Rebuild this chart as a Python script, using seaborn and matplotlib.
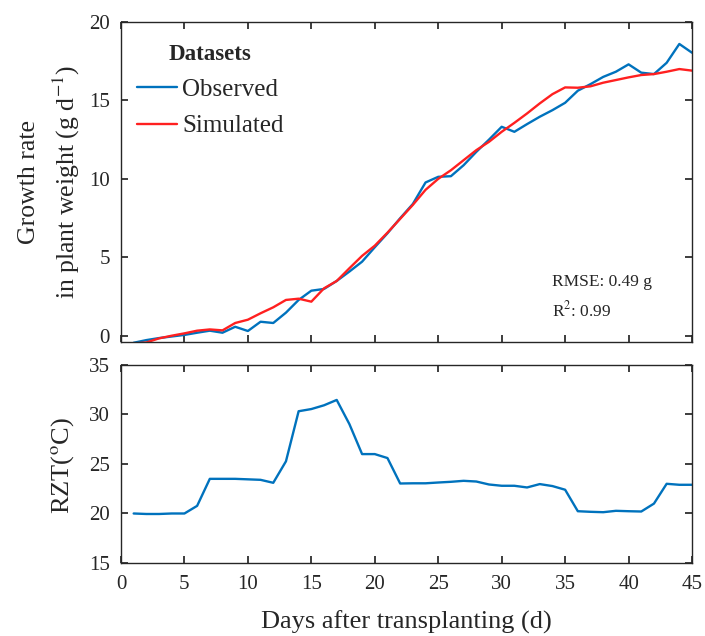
import numpy as np
import pandas as pd
import matplotlib
matplotlib.use("Agg")
import matplotlib.pyplot as plt
import seaborn as sns

days = list(range(1, 46))
observed = [-0.45, -0.28, -0.15, -0.05, 0.05, 0.19, 0.32, 0.19, 0.57, 0.30,
            0.89, 0.81, 1.47, 2.28, 2.87, 2.98, 3.49, 4.09, 4.72, 5.64,
            6.53, 7.49, 8.40, 9.77, 10.13, 10.17, 10.87, 11.72, 12.50, 13.32,
            13.00, 13.49, 13.96, 14.38, 14.85, 15.62, 16.04, 16.50, 16.83, 17.30,
            16.77, 16.68, 17.40, 18.60, 18.04]
simulated = [-0.50, -0.43, -0.17, 0.00, 0.15, 0.32, 0.40, 0.34, 0.81, 1.02,
             1.43, 1.81, 2.28, 2.36, 2.17, 3.02, 3.49, 4.30, 5.09, 5.74,
             6.57, 7.45, 8.34, 9.30, 10.00, 10.55, 11.19, 11.83, 12.36, 13.00,
             13.57, 14.17, 14.81, 15.40, 15.83, 15.81, 15.90, 16.13, 16.30, 16.47,
             16.62, 16.68, 16.83, 17.00, 16.90]
rzt = [20.0, 19.95, 19.95, 20.0, 20.0, 20.77, 23.5, 23.5, 23.5, 23.45,
       23.4, 23.1, 25.27, 30.33, 30.55, 30.93, 31.47, 29.03, 26.0, 26.0,
       25.6, 23.03, 23.05, 23.05, 23.13, 23.2, 23.3, 23.23, 22.93, 22.8,
       22.8, 22.63, 22.97, 22.77, 22.4, 20.23, 20.17, 20.13, 20.27, 20.23,
       20.2, 21.0, 23.0, 22.9, 22.9]

df = pd.DataFrame({
    "day": days * 2,
    "value": observed + simulated,
    "Datasets": ["Observed"] * len(days) + ["Simulated"] * len(days),
})
df_rzt = pd.DataFrame({"day": days, "rzt": rzt})

sns.set_theme(style="ticks")
plt.rcParams["font.family"] = ["Liberation Serif", "DejaVu Serif"]
plt.rcParams["mathtext.fontset"] = "stix"
plt.rcParams["axes.edgecolor"] = "#262626"
plt.rcParams["axes.linewidth"] = 1.0

BLUE = "#0072BD"
RED = "#FF2020"
TXT = "#262626"

fig = plt.figure(figsize=(7.05, 6.36), dpi=100)
ax1 = fig.add_axes([0.1716, 0.4623, 0.81, 0.5031])
ax2 = fig.add_axes([0.1716, 0.1148, 0.81, 0.3113])

sns.lineplot(data=df, x="day", y="value", hue="Datasets",
             palette={"Observed": BLUE, "Simulated": RED}, ax=ax1, linewidth=1.7)
sns.lineplot(data=df_rzt, x="day", y="rzt", color=BLUE, ax=ax2, linewidth=1.7)

for ax in (ax1, ax2):
    ax.set_xlim(0, 45)
    ax.set_xticks(range(0, 46, 5))
    ax.tick_params(direction="in", top=True, right=True, length=5,
                   labelsize=15, color=TXT, labelcolor=TXT)
    ax.tick_params(axis="x", pad=9)
    ax.tick_params(axis="y", pad=8)
    for s in ax.spines.values():
        s.set_visible(True)
        s.set_color(TXT)

ax1.set_ylim(-0.4, 20)
ax1.set_yticks([0, 5, 10, 15, 20])
ax1.set_xticklabels([])
ax1.set_xlabel("")
ax1.set_ylabel("Growth rate\nin plant weight (g d$^{-1}$)", fontsize=18.5, color=TXT,
               linespacing=1.45)
ax1.yaxis.set_label_coords(-0.069, 0.5)

ax2.set_ylim(15, 35)
ax2.set_yticks([15, 20, 25, 30, 35])
ax2.set_xlabel("Days after transplanting (d)", fontsize=19, color=TXT)
ax2.xaxis.set_label_coords(0.5, -0.24)
ax2.set_ylabel("RZT($^{\\mathrm{o}}$C)", fontsize=19, color=TXT)
ax2.yaxis.set_label_coords(-0.078, 0.49)

leg = ax1.legend(title="Datasets", loc="upper left", frameon=False,
                 fontsize=18, title_fontsize=16.5, handlelength=1.6,
                 handletextpad=0.2, labelspacing=0.55, borderpad=0,
                 borderaxespad=0, bbox_to_anchor=(0.028, 0.932))
leg.get_title().set_fontweight("bold")
leg.get_title().set_color(TXT)
for t in leg.get_texts():
    t.set_color(TXT)
leg._legend_box.align = "center"

ax1.text(0.755, 0.186, "RMSE: 0.49 g", transform=ax1.transAxes, fontsize=12.5,
         color=TXT, va="center")
ax1.text(0.755, 0.10, "R$^{2}$: 0.99", transform=ax1.transAxes, fontsize=12.5,
         color=TXT, va="center")

fig.savefig("out.png", dpi=100)
